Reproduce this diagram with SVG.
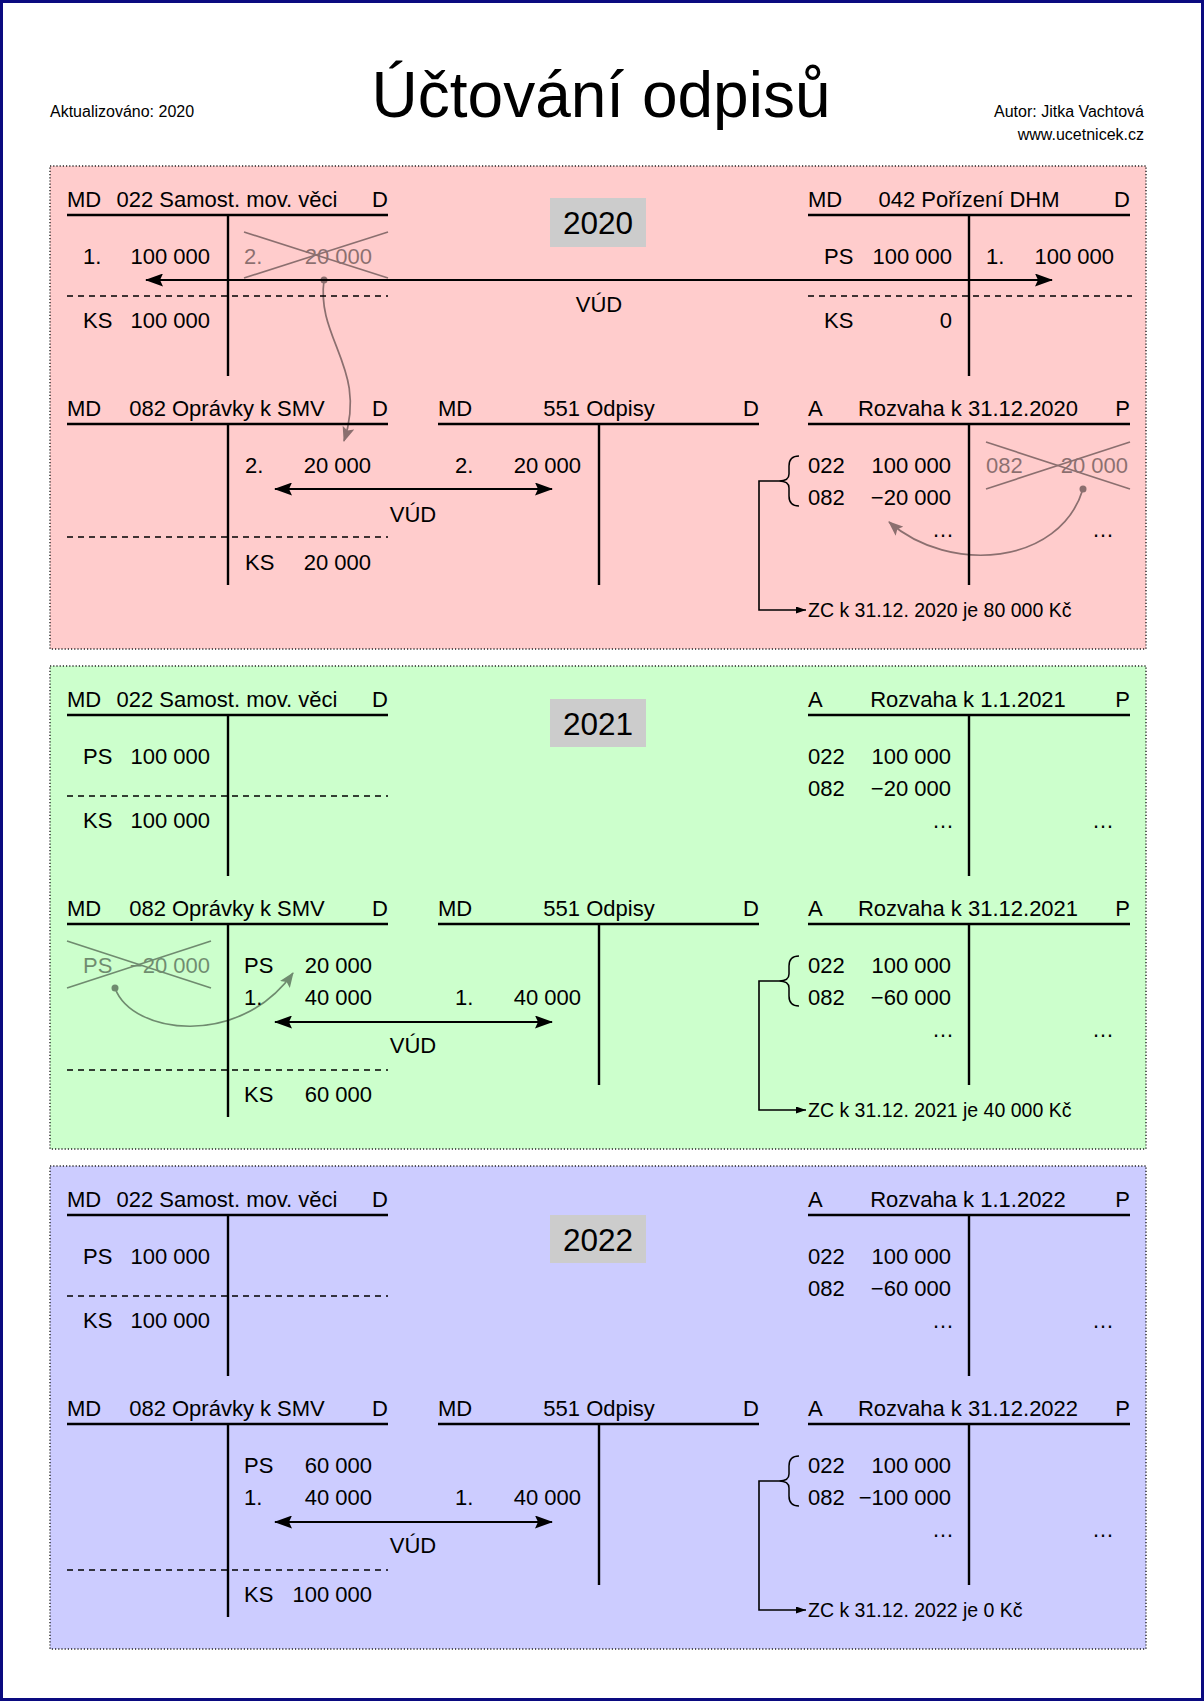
<svg xmlns="http://www.w3.org/2000/svg" width="1204" height="1701" viewBox="0 0 1204 1701">
<defs>
<style>
text{font-family:"Liberation Sans",Arial,sans-serif;font-size:22px;fill:#000}
.m{text-anchor:middle}
.e{text-anchor:end}
.s16{font-size:16px}
.ttl{font-size:64px}
.zc{font-size:19.5px}
.yr{font-size:31.5px}
.hl{stroke:#000;stroke-width:2.6}
.vl{stroke:#000;stroke-width:2.4}
.dl{stroke:#000;stroke-width:1.5;stroke-dasharray:6 5}
.panel{stroke:#222;stroke-width:1.4;stroke-dasharray:1.2 2}
.gr{opacity:.45}
.cr{stroke:#000;stroke-width:1.6}
.arr{stroke:#000;stroke-width:2;fill:none}
.zl{stroke:#000;stroke-width:1.6;fill:none}
.cv{stroke:#000;stroke-width:1.7;fill:none}
.br{stroke:#000;stroke-width:1.5;fill:none}
.yb{fill:#CCCCCC}
</style>
<marker id="ah" viewBox="0 0 18 13" refX="17" refY="6.5" markerWidth="18" markerHeight="13" markerUnits="userSpaceOnUse" orient="auto-start-reverse">
<path d="M0,0 L18,6.5 L0,13 L3,6.5 z" fill="#000"/>
</marker>
<marker id="as" viewBox="0 0 10 7" refX="10" refY="3.5" markerWidth="10" markerHeight="7" markerUnits="userSpaceOnUse" orient="auto">
<path d="M0,0 L10,3.5 L0,7 z" fill="#000"/>
</marker>
<marker id="ag" viewBox="0 0 15 12" refX="14" refY="6" markerWidth="15" markerHeight="12" markerUnits="userSpaceOnUse" orient="auto">
<path d="M0,0 L15,6 L0,12 L3,6 z" fill="#000"/>
</marker>
</defs>

<rect x="0" y="0" width="1204" height="1701" fill="#fff"/>
<rect x="1.5" y="1.5" width="1201" height="1698" fill="none" stroke="#0a0a80" stroke-width="3"/>

<g id="header">
<text class="s16" x="50" y="117">Aktualizováno: 2020</text>
<text class="ttl m" x="601" y="117">Účtování odpisů</text>
<text class="s16 e" x="1144" y="117">Autor: Jitka Vachtová</text>
<text class="s16 e" x="1144" y="140">www.ucetnicek.cz</text>
</g>

<g id="panels">
<rect class="panel" x="50" y="166" width="1096" height="483" fill="#FFCCCC"/>
<rect class="panel" x="50" y="666" width="1096" height="483" fill="#CCFFCC"/>
<rect class="panel" x="50" y="1166" width="1096" height="483" fill="#CCCCFF"/>
</g>

<!-- ===== 2020 ===== -->
<g id="y2020">
<rect class="yb" x="550" y="198" width="96" height="49"/>
<text class="yr m" x="598" y="234">2020</text>
</g>

<g id="p1-022">
<line class="hl" x1="67" y1="215" x2="388" y2="215"/>
<line class="vl" x1="228" y1="215" x2="228" y2="376"/>
<line class="dl" x1="67" y1="296" x2="388" y2="296"/>
<text x="67" y="207">MD</text>
<text class="m" x="227" y="207">022 Samost. mov. věci</text>
<text class="e" x="388" y="207">D</text>
<text x="83" y="264">1.</text><text class="e" x="210" y="264">100 000</text>
<text x="83" y="328">KS</text><text class="e" x="210" y="328">100 000</text>
<g class="gr">
<text x="244" y="264">2.</text><text class="e" x="372" y="264">20 000</text>
<line class="cr" x1="244" y1="232" x2="388" y2="278"/>
<line class="cr" x1="244" y1="278" x2="388" y2="232"/>
</g>
</g>

<g id="p1-042">
<line class="hl" x1="808" y1="215" x2="1130" y2="215"/>
<line class="vl" x1="969" y1="215" x2="969" y2="376"/>
<line class="dl" x1="808" y1="296" x2="1132" y2="296"/>
<text x="808" y="207">MD</text>
<text class="m" x="969" y="207">042 Pořízení DHM</text>
<text class="e" x="1130" y="207">D</text>
<text x="824" y="264">PS</text><text class="e" x="952" y="264">100 000</text>
<text x="986" y="264">1.</text><text class="e" x="1114" y="264">100 000</text>
<text x="824" y="328">KS</text><text class="e" x="952" y="328">0</text>
</g>

<g id="p1-082">
<line class="hl" x1="67" y1="424" x2="388" y2="424"/>
<line class="vl" x1="228" y1="424" x2="228" y2="585"/>
<line class="dl" x1="67" y1="537" x2="388" y2="537"/>
<text x="67" y="416">MD</text>
<text class="m" x="227" y="416">082 Oprávky k SMV</text>
<text class="e" x="388" y="416">D</text>
<text x="245" y="473">2.</text><text class="e" x="371" y="473">20 000</text>
<text x="245" y="570">KS</text><text class="e" x="371" y="570">20 000</text>
</g>

<g id="p1-551">
<line class="hl" x1="438" y1="424" x2="759" y2="424"/>
<line class="vl" x1="599" y1="424" x2="599" y2="585"/>
<text x="438" y="416">MD</text>
<text class="m" x="599" y="416">551 Odpisy</text>
<text class="e" x="759" y="416">D</text>
<text x="455" y="473">2.</text><text class="e" x="581" y="473">20 000</text>
</g>

<g id="p1-rozvaha">
<line class="hl" x1="808" y1="424" x2="1130" y2="424"/>
<line class="vl" x1="969" y1="424" x2="969" y2="585"/>
<text x="808" y="416">A</text>
<text class="m" x="968" y="416">Rozvaha k 31.12.2020</text>
<text class="e" x="1130" y="416">P</text>
<text x="808" y="473">022</text><text class="e" x="951" y="473">100 000</text>
<text x="808" y="505">082</text><text class="e" x="951" y="505">−20 000</text>
<text class="e" x="954" y="537">…</text><text class="e" x="1114" y="537">…</text>
<path class="br" d="M799,456 Q789,456 789,466 L789,474 Q789,481 779,481 Q789,481 789,488 L789,496 Q789,506 799,506"/>
<g class="gr">
<text x="986" y="473">082</text><text class="e" x="1128" y="473">20 000</text>
<line class="cr" x1="986" y1="442" x2="1130" y2="489"/>
<line class="cr" x1="986" y1="489" x2="1130" y2="442"/>
</g>
<text class="zc" x="808" y="617">ZC k 31.12. 2020 je 80 000 Kč</text>
</g>

<!-- ===== 2021 ===== -->
<g id="y2021">
<rect class="yb" x="550" y="699" width="96" height="48"/>
<text class="yr m" x="598" y="735">2021</text>
</g>

<g id="p2-022">
<line class="hl" x1="67" y1="715" x2="388" y2="715"/>
<line class="vl" x1="228" y1="715" x2="228" y2="876"/>
<line class="dl" x1="67" y1="796" x2="388" y2="796"/>
<text x="67" y="707">MD</text>
<text class="m" x="227" y="707">022 Samost. mov. věci</text>
<text class="e" x="388" y="707">D</text>
<text x="83" y="764">PS</text><text class="e" x="210" y="764">100 000</text>
<text x="83" y="828">KS</text><text class="e" x="210" y="828">100 000</text>
</g>

<g id="p2-rozvaha0101">
<line class="hl" x1="808" y1="715" x2="1130" y2="715"/>
<line class="vl" x1="969" y1="715" x2="969" y2="876"/>
<text x="808" y="707">A</text>
<text class="m" x="968" y="707">Rozvaha k 1.1.2021</text>
<text class="e" x="1130" y="707">P</text>
<text x="808" y="764">022</text><text class="e" x="951" y="764">100 000</text>
<text x="808" y="796">082</text><text class="e" x="951" y="796">−20 000</text>
<text class="e" x="954" y="828">…</text><text class="e" x="1114" y="828">…</text>
</g>

<g id="p2-082">
<line class="hl" x1="67" y1="924" x2="388" y2="924"/>
<line class="vl" x1="228" y1="924" x2="228" y2="1117"/>
<line class="dl" x1="67" y1="1070" x2="388" y2="1070"/>
<text x="67" y="916">MD</text>
<text class="m" x="227" y="916">082 Oprávky k SMV</text>
<text class="e" x="388" y="916">D</text>
<g class="gr">
<text x="83" y="973">PS</text><text class="e" x="210" y="973">−20 000</text>
<line class="cr" x1="67" y1="941" x2="211" y2="988"/>
<line class="cr" x1="67" y1="988" x2="211" y2="941"/>
</g>
<text x="244" y="973">PS</text><text class="e" x="372" y="973">20 000</text>
<text x="244" y="1005">1.</text><text class="e" x="372" y="1005">40 000</text>
<text x="244" y="1102">KS</text><text class="e" x="372" y="1102">60 000</text>
</g>

<g id="p2-551">
<line class="hl" x1="438" y1="924" x2="759" y2="924"/>
<line class="vl" x1="599" y1="924" x2="599" y2="1085"/>
<text x="438" y="916">MD</text>
<text class="m" x="599" y="916">551 Odpisy</text>
<text class="e" x="759" y="916">D</text>
<text x="455" y="1005">1.</text><text class="e" x="581" y="1005">40 000</text>
</g>

<g id="p2-rozvaha">
<line class="hl" x1="808" y1="924" x2="1130" y2="924"/>
<line class="vl" x1="969" y1="924" x2="969" y2="1085"/>
<text x="808" y="916">A</text>
<text class="m" x="968" y="916">Rozvaha k 31.12.2021</text>
<text class="e" x="1130" y="916">P</text>
<text x="808" y="973">022</text><text class="e" x="951" y="973">100 000</text>
<text x="808" y="1005">082</text><text class="e" x="951" y="1005">−60 000</text>
<text class="e" x="954" y="1037">…</text><text class="e" x="1114" y="1037">…</text>
<path class="br" d="M799,956 Q789,956 789,966 L789,974 Q789,981 779,981 Q789,981 789,988 L789,996 Q789,1006 799,1006"/>
<text class="zc" x="808" y="1117">ZC k 31.12. 2021 je 40 000 Kč</text>
</g>

<!-- ===== 2022 ===== -->
<g id="y2022">
<rect class="yb" x="550" y="1215" width="96" height="48"/>
<text class="yr m" x="598" y="1251">2022</text>
</g>

<g id="p3-022">
<line class="hl" x1="67" y1="1215" x2="388" y2="1215"/>
<line class="vl" x1="228" y1="1215" x2="228" y2="1376"/>
<line class="dl" x1="67" y1="1296" x2="388" y2="1296"/>
<text x="67" y="1207">MD</text>
<text class="m" x="227" y="1207">022 Samost. mov. věci</text>
<text class="e" x="388" y="1207">D</text>
<text x="83" y="1264">PS</text><text class="e" x="210" y="1264">100 000</text>
<text x="83" y="1328">KS</text><text class="e" x="210" y="1328">100 000</text>
</g>

<g id="p3-rozvaha0101">
<line class="hl" x1="808" y1="1215" x2="1130" y2="1215"/>
<line class="vl" x1="969" y1="1215" x2="969" y2="1376"/>
<text x="808" y="1207">A</text>
<text class="m" x="968" y="1207">Rozvaha k 1.1.2022</text>
<text class="e" x="1130" y="1207">P</text>
<text x="808" y="1264">022</text><text class="e" x="951" y="1264">100 000</text>
<text x="808" y="1296">082</text><text class="e" x="951" y="1296">−60 000</text>
<text class="e" x="954" y="1328">…</text><text class="e" x="1114" y="1328">…</text>
</g>

<g id="p3-082">
<line class="hl" x1="67" y1="1424" x2="388" y2="1424"/>
<line class="vl" x1="228" y1="1424" x2="228" y2="1617"/>
<line class="dl" x1="67" y1="1570" x2="388" y2="1570"/>
<text x="67" y="1416">MD</text>
<text class="m" x="227" y="1416">082 Oprávky k SMV</text>
<text class="e" x="388" y="1416">D</text>
<text x="244" y="1473">PS</text><text class="e" x="372" y="1473">60 000</text>
<text x="244" y="1505">1.</text><text class="e" x="372" y="1505">40 000</text>
<text x="244" y="1602">KS</text><text class="e" x="372" y="1602">100 000</text>
</g>

<g id="p3-551">
<line class="hl" x1="438" y1="1424" x2="759" y2="1424"/>
<line class="vl" x1="599" y1="1424" x2="599" y2="1585"/>
<text x="438" y="1416">MD</text>
<text class="m" x="599" y="1416">551 Odpisy</text>
<text class="e" x="759" y="1416">D</text>
<text x="455" y="1505">1.</text><text class="e" x="581" y="1505">40 000</text>
</g>

<g id="p3-rozvaha">
<line class="hl" x1="808" y1="1424" x2="1130" y2="1424"/>
<line class="vl" x1="969" y1="1424" x2="969" y2="1585"/>
<text x="808" y="1416">A</text>
<text class="m" x="968" y="1416">Rozvaha k 31.12.2022</text>
<text class="e" x="1130" y="1416">P</text>
<text x="808" y="1473">022</text><text class="e" x="951" y="1473">100 000</text>
<text x="808" y="1505">082</text><text class="e" x="951" y="1505">−100 000</text>
<text class="e" x="954" y="1537">…</text><text class="e" x="1114" y="1537">…</text>
<path class="br" d="M799,1456 Q789,1456 789,1466 L789,1474 Q789,1481 779,1481 Q789,1481 789,1488 L789,1496 Q789,1506 799,1506"/>
<text class="zc" x="808" y="1617">ZC k 31.12. 2022 je 0 Kč</text>
</g>

<!-- connectors -->
<g id="connectors">
<path class="arr" d="M146,280 H1052" marker-start="url(#ah)" marker-end="url(#ah)"/>
<text class="m" x="599" y="312">VÚD</text>
<path class="arr" d="M275,489 H552" marker-start="url(#ah)" marker-end="url(#ah)"/>
<text class="m" x="413" y="522">VÚD</text>
<path class="arr" d="M275,1022 H552" marker-start="url(#ah)" marker-end="url(#ah)"/>
<text class="m" x="413" y="1053">VÚD</text>
<path class="arr" d="M275,1522 H552" marker-start="url(#ah)" marker-end="url(#ah)"/>
<text class="m" x="413" y="1553">VÚD</text>

<path class="zl" d="M779,481 H759 V610 H806" marker-end="url(#as)"/>
<path class="zl" d="M779,981 H759 V1110 H806" marker-end="url(#as)"/>
<path class="zl" d="M779,1481 H759 V1610 H806" marker-end="url(#as)"/>

<g class="gr">
<circle cx="324" cy="280" r="3.5" fill="#000"/>
<path class="cv" d="M324,280 C316,340 368,368 344,441" marker-end="url(#ag)"/>
</g>
<g class="gr">
<circle cx="1083" cy="489" r="3.5" fill="#000"/>
<path class="cv" d="M1083,489 C1060,565 950,575 889,522" marker-end="url(#ag)"/>
</g>
<g class="gr">
<circle cx="115" cy="988" r="3.5" fill="#000"/>
<path class="cv" d="M115,988 C132,1035 240,1048 293,973" marker-end="url(#ag)"/>
</g>
</g>
</svg>
